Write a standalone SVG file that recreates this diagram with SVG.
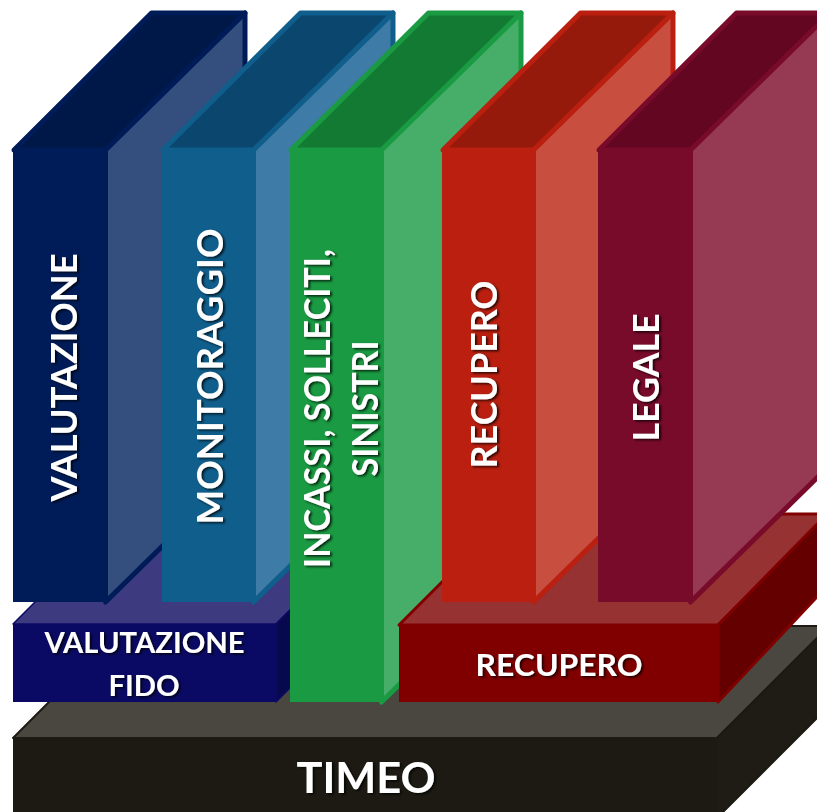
<svg xmlns="http://www.w3.org/2000/svg" width="817" height="812" viewBox="0 0 817 812">
<style>
.lbl{font-family:Lato,"Open Sans","Liberation Sans",sans-serif;font-weight:700;fill:#ffffff}
.col text{font-size:37px}
#col1{stroke:#001c58;stroke-width:5;stroke-linejoin:round}
#col2{stroke:#0f5e8c;stroke-width:5;stroke-linejoin:round}
#col3{stroke:#1a9a42;stroke-width:5;stroke-linejoin:round}
#col4{stroke:#ba1f10;stroke-width:5;stroke-linejoin:round}
#col5{stroke:#780a2a;stroke-width:5;stroke-linejoin:round}
.col rect{stroke:none}
.col text{stroke:none}
#base polygon{stroke:#1c1a12;stroke-width:2;stroke-linejoin:round}
#fido polygon{stroke:#0a0a64;stroke-width:1.5;stroke-linejoin:round}
#recbox polygon{stroke:#800000;stroke-width:3;stroke-linejoin:round}
</style>
<defs>
<filter id="sh" x="-20%" y="-20%" width="140%" height="140%">
<feDropShadow dx="2" dy="1.5" stdDeviation="1.2" flood-color="#000000" flood-opacity="0.75"/>
</filter>
</defs>

<g id="base">
<polygon points="13,738 125,626 830,626 717,738" fill="#4a4740"/>
<polygon points="717,738 830,625 830,705 717,818" fill="#1e1c14"/>
<rect x="13" y="738" width="704" height="80" fill="#1c1a12"/>
<g filter="url(#sh)"><text class="lbl" x="366" y="793" font-size="42" text-anchor="middle" textLength="139" lengthAdjust="spacingAndGlyphs">TIMEO</text></g>
</g>

<g id="fido">
<polygon points="13,624 124,513 387,513 276,624" fill="#3d3a80"/>
<polygon points="276,624 387,513 387,591 276,702" fill="#08084e"/>
<rect x="13" y="624" width="263" height="78" fill="#0a0a64"/>
<g filter="url(#sh)">
<text class="lbl" x="144.5" y="653" font-size="29" text-anchor="middle" textLength="200" lengthAdjust="spacingAndGlyphs">VALUTAZIONE</text>
<text class="lbl" x="144" y="696" font-size="29" text-anchor="middle" textLength="71" lengthAdjust="spacingAndGlyphs">FIDO</text>
</g>
</g>

<g id="col1" class="col">
<polygon points="14,150 151.5,13 245,13 108,150" fill="#001848"/>
<polygon points="105.5,150 245,13 245,465 105.5,602" fill="#344e7e"/>
<rect x="13" y="150" width="95" height="452" fill="#001c58"/>
<g filter="url(#sh)"><text class="lbl" transform="translate(76.5,377.5) rotate(-90)" text-anchor="middle" textLength="248" lengthAdjust="spacingAndGlyphs">VALUTAZIONE</text></g>
</g>

<g id="col2" class="col">
<polygon points="163,150 300.5,13 393,13 256,150" fill="#0b466e"/>
<polygon points="253.5,150 393,13 393,465 253.5,602" fill="#3e7ba6"/>
<rect x="162" y="150" width="94" height="452" fill="#0f5e8c"/>
<g filter="url(#sh)"><text class="lbl" transform="translate(222.5,376.5) rotate(-90)" text-anchor="middle" textLength="296" lengthAdjust="spacingAndGlyphs">MONITORAGGIO</text></g>
</g>

<g id="col3" class="col">
<polygon points="291,150 428.5,13 521,13 384,150" fill="#127a32"/>
<polygon points="381.5,150 521,13 521,565 381.5,702" fill="#46ae68"/>
<rect x="290" y="150" width="94" height="552" fill="#1a9a42"/>
<g filter="url(#sh)">
<text class="lbl" transform="translate(330,408.5) rotate(-90)" text-anchor="middle" textLength="319" lengthAdjust="spacingAndGlyphs">INCASSI, SOLLECITI,</text>
<text class="lbl" transform="translate(377.5,408.5) rotate(-90)" text-anchor="middle" textLength="136" lengthAdjust="spacingAndGlyphs">SINISTRI</text>
</g>
</g>

<g id="recbox">
<polygon points="399,625 510,514 830,514 718,625" fill="#963232"/>
<polygon points="718,625 830,511 830,583 718,702" fill="#640000"/>
<rect x="399" y="625" width="319" height="77" fill="#800000"/>
<g filter="url(#sh)"><text class="lbl" x="559" y="676" font-size="31" text-anchor="middle" textLength="167" lengthAdjust="spacingAndGlyphs">RECUPERO</text></g>
</g>

<g id="col4" class="col">
<polygon points="443,150 580.5,13 673,13 536,150" fill="#961a0c"/>
<polygon points="533.5,150 673,13 673,465 533.5,602" fill="#c84f40"/>
<rect x="442" y="150" width="94" height="452" fill="#ba1f10"/>
<g filter="url(#sh)"><text class="lbl" transform="translate(496.5,374.5) rotate(-90)" text-anchor="middle" textLength="188" lengthAdjust="spacingAndGlyphs">RECUPERO</text></g>
</g>

<g id="col5" class="col">
<polygon points="599,150 736.5,13 830,13 693,150" fill="#620622"/>
<polygon points="690.5,150 830,13 830,465 690.5,602" fill="#963a54"/>
<rect x="598" y="150" width="95" height="452" fill="#780a2a"/>
<g filter="url(#sh)"><text class="lbl" transform="translate(659,377.5) rotate(-90)" text-anchor="middle" textLength="128" lengthAdjust="spacingAndGlyphs">LEGALE</text></g>
</g>
</svg>
